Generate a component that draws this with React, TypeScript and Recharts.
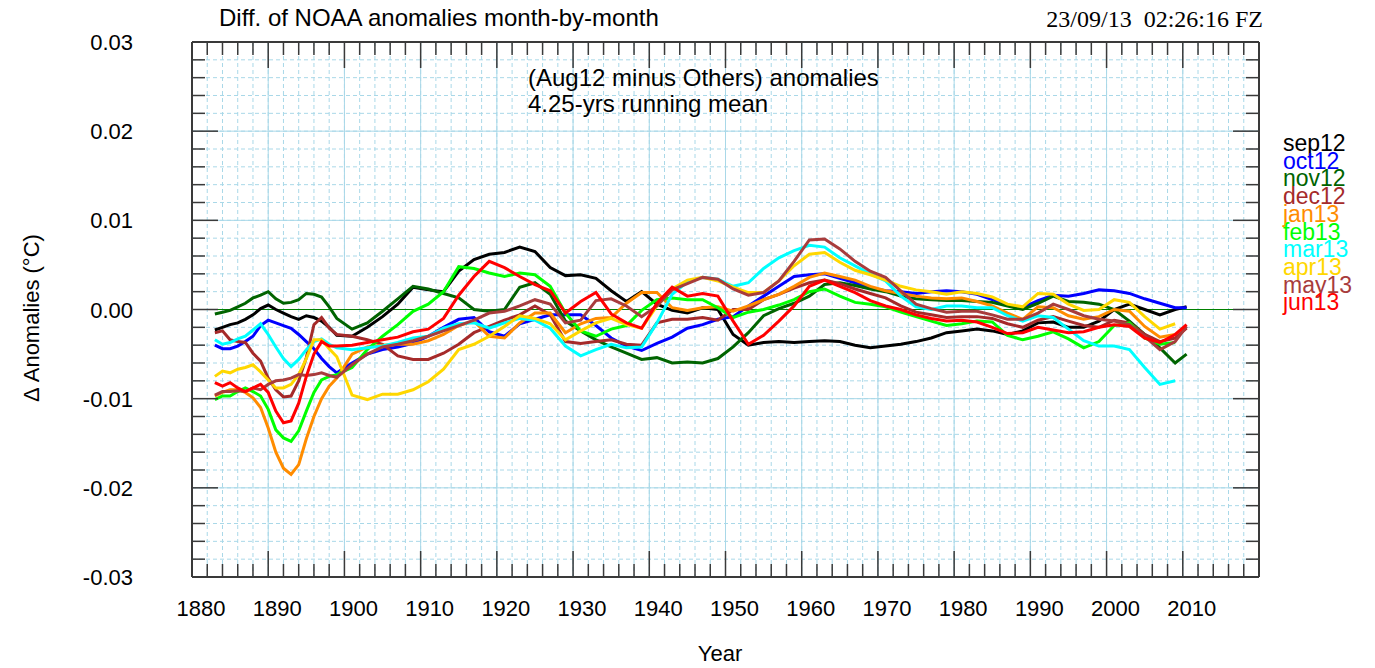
import { CartesianGrid, Line, LineChart, ReferenceLine, XAxis, YAxis } from "recharts";

const W = 1375;
const H = 668;
const MARGIN = { top: 41, right: 115, bottom: 61, left: 191 };

const SANS = "'Liberation Sans', Arial, Helvetica, sans-serif";
const SERIF = "'Liberation Serif', 'Times New Roman', serif";
const GRID = "#a9d8e8";
const FRAME = "#3a3a3a";
const ZERO = "#008000";

// sample years (decimal); yearly through the 1890s dip, then every 2 years
const YEARS = [
  1883, 1884, 1885, 1886, 1887, 1888, 1889, 1890, 1891, 1892, 1893, 1894, 1895, 1896, 1897, 1898, 1899,
  1901, 1903, 1905, 1907, 1909, 1911, 1913, 1915, 1917, 1919, 1921, 1923, 1925, 1927, 1929, 1931, 1933,
  1935, 1937, 1939, 1941, 1943, 1945, 1947, 1949, 1951, 1953, 1955, 1957, 1959, 1961, 1963,
  1965, 1967, 1969, 1971, 1973, 1975, 1977, 1979, 1981, 1983, 1985, 1987, 1989, 1991,
  1993, 1995, 1997, 1999, 2001, 2003, 2005, 2007, 2009, 2010.5,
];

// values in thousandths of a degree (axis labels divide by 1000)
const SEP12 = [
  -2.3, -2.0, -1.7, -1.5, -1.1, -0.6, 0.1, 0.5, 0.0, -0.4, -0.8, -1.1, -0.7, -0.9, -1.3, -2.0, -2.9,
  -3.0, -2.0, -0.8, 0.6,
  2.5, 2.2, 2.0, 4.3, 5.6, 6.2, 6.4, 7.0, 6.5, 4.7, 3.8, 3.9, 3.5,
  2.1, 0.9, 2.0, 0.6, -0.1, -0.4, 0.2, 0.0, -2.8, -4.0, -3.7, -3.6, -3.7, -3.6, -3.5,
  -3.6, -4.0, -4.3, -4.1, -3.9, -3.6, -3.2, -2.6, -2.4, -2.2, -2.4, -2.8, -2.4, -1.5,
  -1.4, -2.0, -2.0, -1.3, 0.0, 0.6, 0.0, -0.6, 0.0,
  0.3,
];
const OCT12 = [
  -4.0, -4.4, -4.4, -4.1, -3.6, -3.0, -1.8, -1.2, -1.5, -1.8, -2.1, -2.8, -3.6, -4.4, -5.5, -6.4, -7.1,
  -6.0, -5.0, -4.5, -4.2,
  -3.8, -3.0, -2.0, -1.1, -0.9, -2.5, -3.0, -1.6, -1.1, -0.6, -0.6, -0.6, -1.8,
  -3.2, -4.1, -4.6, -3.8, -3.1, -2.1, -1.7, -1.1, -0.8, 0.4, 1.5, 2.6, 3.7, 3.9, 4.0,
  3.5, 3.0, 2.4, 2.1, 2.0, 1.8, 2.0, 2.1, 2.0, 1.7, 1.1, 0.5, 0.2, 1.0,
  1.6, 1.5, 1.8, 2.2, 2.1, 1.8, 1.2, 0.7, 0.2,
  0.2,
];
const NOV12 = [
  -0.5, -0.3, -0.1, 0.3, 0.7, 1.3, 1.6, 2.0, 1.2, 0.7, 0.8, 1.1, 1.8, 1.7, 1.4, 0.3, -1.0,
  -2.2, -1.5, -0.2, 1.2,
  2.6, 2.3, 1.8, 1.3, 0.0, -0.2, 0.0, 2.5, 3.0, 1.7, -1.3, -2.4, -3.4,
  -4.2, -4.9, -5.6, -5.4, -6.0, -5.9, -6.0, -5.5, -4.2, -2.6, -0.7, 0.1, 0.7, 1.5, 2.8,
  3.0, 2.7, 2.3, 2.0, 1.5, 1.2, 1.1, 1.0, 1.0, 0.9, 0.8, 0.4, 0.0, 0.7,
  1.5, 0.9, 0.8, 0.6, 0.0, -1.3, -2.8, -4.3, -6.0,
  -5.0,
];
const DEC12 = [
  -2.6, -2.4, -3.4, -3.6, -3.7, -4.9, -5.8, -7.7, -9.0, -9.8, -9.7, -8.0, -5.4, -1.7, -0.9, -2.1, -2.8,
  -3.0, -3.4, -3.9, -5.2,
  -5.6, -5.6, -4.9, -3.9, -2.6, -1.9, -1.2, -0.6, 0.4, -0.6, -3.6, -3.8, -3.6,
  -3.4, -3.9, -4.0, -1.5, -1.1, -1.1, -0.9, -1.2, 0.0, 0.0, 1.1, 1.7, 2.4, 3.0, 3.3,
  2.9, 2.3, 1.8, 1.3, 0.4, -0.3, -0.6, -0.9, -0.8, -0.8, -1.0, -1.6, -2.0, -1.2,
  -0.8, -1.3, -1.8, -2.0, -1.2, -1.5, -2.8, -3.6, -3.2,
  -2.1,
];
const JAN13 = [
  -9.7, -9.3, -9.0, -9.0, -9.3, -9.9, -11.0, -13.3, -16.0, -17.8, -18.5, -17.4, -14.5, -12.0, -10.0, -8.6, -7.7,
  -5.0, -4.2, -4.0, -3.9,
  -3.9, -3.5, -2.8, -1.8, -1.3, -3.0, -3.2, -1.5, -0.4, -0.4, -2.6, -1.6, -1.0,
  -0.9, 0.7, 1.9, 1.9, 0.2, -0.1, 0.2, 0.3, -0.2, 0.4, 1.1, 1.7, 2.6, 3.6, 4.1,
  3.7, 3.3, 2.6, 2.1, 1.8, 1.5, 1.3, 1.2, 1.3, 0.9, 0.4, -0.4, -1.1, 0.3,
  0.2, -0.7, -1.1, -0.8, 0.0, -0.2, -1.9, -3.1, -2.8,
  null,
];
const FEB13 = [
  -10.1, -9.7, -9.7, -9.2, -8.8, -9.2, -9.7, -11.2, -13.5, -14.4, -14.8, -13.6, -11.4, -9.3, -7.9, -7.5, -7.3,
  -6.5, -4.5, -3.0, -1.7,
  -0.2, 0.6, 2.0, 4.8, 4.6, 4.1, 3.7, 4.1, 3.9, 2.6, -0.4, -2.4, -3.0,
  -2.2, -1.8, -0.1, 1.1, 1.3, 1.1, 1.1, 0.2, -0.9, -0.3, 0.0, 0.5, 1.1, 2.0, 2.3,
  1.5, 0.8, 0.6, 0.3, -0.3, -0.8, -1.3, -1.8, -1.6, -1.3, -1.4, -2.9, -3.4, -3.0,
  -2.5, -3.3, -4.3, -3.6, -1.8, -1.5, -3.2, -3.9, -3.7,
  null,
];
const MAR13 = [
  -3.4, -3.9, -3.7, -3.3, -3.0, -2.3, -1.6, -2.8, -4.2, -5.5, -6.4, -5.6, -4.5, -3.6, -3.3, -3.9, -4.3,
  -4.5, -4.3, -4.1, -3.7,
  -3.2, -3.0, -2.1, -1.6, -1.5, -2.1, -1.5, -1.0, -1.2, -2.1, -4.1, -5.2, -4.5,
  -3.9, -4.3, -4.2, -1.5, 1.7, 3.1, 3.6, 3.4, 2.6, 3.0, 4.6, 5.8, 6.6, 7.2, 7.0,
  5.8, 4.9, 4.0, 3.2, 1.5, 0.3, 0.0, 0.4, 0.4, 0.2, 0.2, -0.7, -1.3, -0.7,
  -0.9, -2.2, -3.5, -4.1, -4.1, -4.5, -6.5, -8.4, -8.0,
  null,
];
const APR13 = [
  -7.5, -6.9, -7.1, -6.7, -6.5, -6.2, -7.0, -7.9, -8.8, -8.8, -8.4, -7.3, -5.5, -3.4, -3.4, -4.4, -5.3,
  -9.6, -10.1, -9.5, -9.5,
  -9.0, -8.1, -6.7, -4.5, -3.9, -3.0, -1.9, -0.7, -1.0, -1.6, -3.4, -2.4, -1.5,
  -1.0, -1.7, -2.1, 0.4, 2.3, 3.3, 3.6, 3.2, 2.5, 1.9, 1.9, 3.2, 4.9, 6.2, 6.4,
  5.3, 4.4, 3.9, 3.3, 2.6, 2.2, 2.0, 1.7, 2.0, 1.8, 1.4, 0.6, 0.3, 1.8,
  1.7, 0.6, -0.1, 0.0, 1.1, 0.8, -0.8, -2.2, -1.6,
  null,
];
const MAY13 = [
  -9.6, -9.2, -9.2, -9.1, -9.2, -8.8, -9.0, -8.4, -8.0, -7.9, -7.7, -7.3, -7.4, -7.3, -7.1, -7.4, -7.6,
  -6.2, -5.0, -4.2, -3.9,
  -3.5, -3.0, -2.4, -1.8, -1.2, -0.4, -0.2, 0.4, 1.1, 0.6, -1.5, -1.2, 1.0,
  1.2, 0.4, -0.8, 0.4, 2.2, 2.9, 3.6, 3.4, 2.3, 1.6, 1.9, 3.2, 5.4, 7.8, 7.9,
  6.8, 5.4, 4.3, 3.6, 2.1, 0.6, 0.1, -0.3, -0.2, -0.2, -0.6, -1.1, -1.1, -0.4,
  0.6, 0.0, -0.7, -1.1, -1.3, -1.7, -3.0, -4.5, -3.6,
  -1.9,
];
const JUN13 = [
  -8.2, -8.6, -8.2, -8.8, -9.2, -8.8, -8.4, -9.3, -11.4, -12.7, -12.5, -10.5, -7.5, -5.0, -3.6, -4.1, -4.1,
  -4.0, -3.7, -3.4, -3.1,
  -2.5, -2.2, -1.0, 1.6, 3.7, 5.4, 4.7, 3.7, 2.8, 2.1, -0.4, 0.9, 1.9,
  -0.5, -1.5, -2.1, 0.7, 2.5, 1.5, 1.8, 1.5, -1.3, -3.9, -2.9, -1.3, 0.4, 2.6, 3.3,
  2.6, 1.9, 1.0, 0.4, 0.0, -0.6, -1.0, -1.3, -1.2, -1.4, -2.0, -2.7, -2.6, -2.0,
  -2.3, -2.6, -2.5, -2.0, -1.7, -1.9, -3.2, -3.7, -2.8,
  -1.7,
];

const SERIES = [
  { key: "sep12", color: "#000000", values: SEP12 },
  { key: "oct12", color: "#0000ff", values: OCT12 },
  { key: "nov12", color: "#006400", values: NOV12 },
  { key: "dec12", color: "#a52a2a", values: DEC12 },
  { key: "jan13", color: "#ff8c00", values: JAN13 },
  { key: "feb13", color: "#00ff00", values: FEB13 },
  { key: "mar13", color: "#00ffff", values: MAR13 },
  { key: "apr13", color: "#ffd700", values: APR13 },
  { key: "may13", color: "#a83c3c", values: MAY13 },
  { key: "jun13", color: "#ff0000", values: JUN13 },
];

const X_DOMAIN = [1880, 2020];
const X_MAJOR = [1880, 1890, 1900, 1910, 1920, 1930, 1940, 1950, 1960, 1970, 1980, 1990, 2000, 2010, 2020];
const X_LABELS = [1880, 1890, 1900, 1910, 1920, 1930, 1940, 1950, 1960, 1970, 1980, 1990, 2000, 2010];
const Y_DOMAIN = [-30, 30];
const Y_MAJOR = [-30, -20, -10, 0, 10, 20, 30];

const X_TICKS: number[] = [];
for (let y = X_DOMAIN[0]; y <= X_DOMAIN[1]; y += 2) X_TICKS.push(y);
const Y_TICKS: number[] = [];
for (let v = Y_DOMAIN[0]; v <= Y_DOMAIN[1]; v += 2) Y_TICKS.push(v);

const rows = YEARS.map((year, i) => {
  const row: Record<string, number | null> = { year };
  SERIES.forEach((s) => (row[s.key] = s.values[i]));
  return row;
});

const MAJOR_LEN = 26;
const MINOR_LEN = 13;

function BottomTick(p: any) {
  const v = p.payload.value;
  const major = X_MAJOR.includes(v);
  return (
    <g>
      <line x1={p.x} x2={p.x} y1={p.y} y2={p.y - (major ? MAJOR_LEN : MINOR_LEN)} stroke={FRAME} strokeWidth={1.5} />
      {X_LABELS.includes(v) ? (
        <text x={p.x + 9} y={p.y + 39} textAnchor="middle" fontSize={22} fontFamily={SANS} fill="#000">
          {v}
        </text>
      ) : null}
    </g>
  );
}

function TopTick(p: any) {
  const major = X_MAJOR.includes(p.payload.value);
  return <line x1={p.x} x2={p.x} y1={p.y} y2={p.y + (major ? MAJOR_LEN : MINOR_LEN)} stroke={FRAME} strokeWidth={1.5} />;
}

function LeftTick(p: any) {
  const v = p.payload.value;
  const major = Y_MAJOR.includes(v);
  return (
    <g>
      <line x1={p.x} x2={p.x + (major ? MAJOR_LEN : MINOR_LEN)} y1={p.y} y2={p.y} stroke={FRAME} strokeWidth={1.5} />
      {major ? (
        <text x={p.x - 59} y={p.y + 8} textAnchor="end" fontSize={22} fontFamily={SANS} fill="#000">
          {(v / 1000).toFixed(2)}
        </text>
      ) : null}
    </g>
  );
}

function RightTick(p: any) {
  const major = Y_MAJOR.includes(p.payload.value);
  return <line x1={p.x} x2={p.x - (major ? MAJOR_LEN : MINOR_LEN)} y1={p.y} y2={p.y} stroke={FRAME} strokeWidth={1.5} />;
}

const axisLine = { stroke: FRAME, strokeWidth: 2 };

export default function App() {
  return (
    <div style={{ position: "absolute", left: 0, top: 0, width: W, height: H, background: "#fff" }}>
      <LineChart width={W} height={H} data={rows} margin={MARGIN}>
        <CartesianGrid xAxisId="b" yAxisId="l" stroke={GRID} strokeDasharray="4 3" />
        {X_MAJOR.map((x) => (
          <ReferenceLine key={"vx" + x} xAxisId="b" yAxisId="l" x={x} stroke={GRID} strokeWidth={1} />
        ))}
        {Y_MAJOR.filter((v) => v !== 0).map((v) => (
          <ReferenceLine key={"hy" + v} xAxisId="b" yAxisId="l" y={v} stroke={GRID} strokeWidth={1} />
        ))}
        <ReferenceLine xAxisId="b" yAxisId="l" y={0} stroke={ZERO} strokeWidth={1} />
        <XAxis
          xAxisId="b"
          dataKey="year"
          type="number"
          domain={X_DOMAIN}
          ticks={X_TICKS}
          interval={0}
          allowDataOverflow
          height={30}
          tickLine={false}
          tickSize={0}
          tickMargin={0}
          axisLine={axisLine}
          tick={(p: any) => <BottomTick {...p} />}
        />
        <XAxis
          xAxisId="t"
          orientation="top"
          dataKey="year"
          type="number"
          domain={X_DOMAIN}
          ticks={X_TICKS}
          interval={0}
          allowDataOverflow
          height={1}
          tickLine={false}
          tickSize={0}
          tickMargin={0}
          axisLine={axisLine}
          tick={(p: any) => <TopTick {...p} />}
        />
        <YAxis
          yAxisId="l"
          type="number"
          domain={Y_DOMAIN}
          ticks={Y_TICKS}
          interval={0}
          allowDataOverflow
          width={1}
          tickLine={false}
          tickSize={0}
          tickMargin={0}
          axisLine={axisLine}
          tick={(p: any) => <LeftTick {...p} />}
        />
        <YAxis
          yAxisId="r"
          orientation="right"
          type="number"
          domain={Y_DOMAIN}
          ticks={Y_TICKS}
          interval={0}
          allowDataOverflow
          width={1}
          tickLine={false}
          tickSize={0}
          tickMargin={0}
          axisLine={axisLine}
          tick={(p: any) => <RightTick {...p} />}
        />
        {SERIES.map((s) => (
          <Line
            key={s.key}
            xAxisId="b"
            yAxisId="l"
            dataKey={s.key}
            type="linear"
            stroke={s.color}
            strokeWidth={3}
            dot={false}
            activeDot={false}
            isAnimationActive={false}
          />
        ))}
      </LineChart>
      <svg width={W} height={H} style={{ position: "absolute", left: 0, top: 0, pointerEvents: "none" }}>
        <text x={219} y={26} fontSize={24} fontFamily={SANS} fill="#000">
          Diff. of NOAA anomalies month-by-month
        </text>
        <text x={1263} y={27} fontSize={24} fontFamily={SERIF} textAnchor="end" fill="#000" xmlSpace="preserve" style={{ whiteSpace: "pre" }}>
          23/09/13  02:26:16 FZ
        </text>
        <text x={528} y={86} fontSize={24} fontFamily={SANS} fill="#000">
          (Aug12 minus Others) anomalies
        </text>
        <text x={528} y={112} fontSize={24} fontFamily={SANS} fill="#000">
          4.25-yrs running mean
        </text>
        <text transform="translate(39,318) rotate(-90)" textAnchor="middle" fontSize={22} fontFamily={SANS} fill="#000">
          Δ Anomalies (°C)
        </text>
        <text x={720} y={661} textAnchor="middle" fontSize={22} fontFamily={SANS} fill="#000">
          Year
        </text>
        {SERIES.map((s, i) => (
          <text key={s.key} x={1283} y={151 + i * 17.7} fontSize={23} fontFamily={SANS} fill={s.color}>
            {s.key}
          </text>
        ))}
      </svg>
    </div>
  );
}
